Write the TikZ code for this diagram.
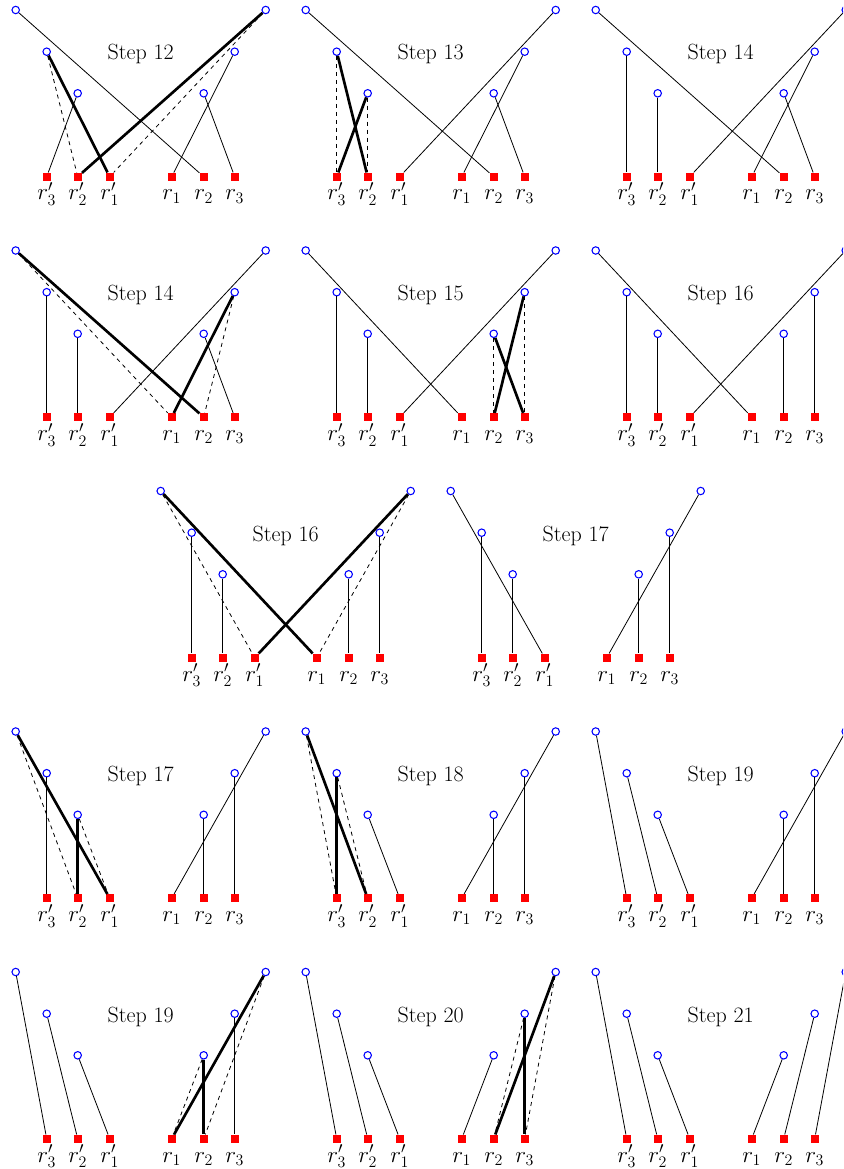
\documentclass[tikz,border=0pt]{standalone}
\begin{document}
\begin{tikzpicture}[x=0.75pt,y=-0.75pt,
  pt/.style={circle,draw=blue,fill=white,line width=0.8pt,minimum size=5.6pt,inner sep=0pt},
  sq/.style={rectangle,fill=red,minimum size=6pt,inner sep=0pt},
  lab/.style={anchor=base,inner sep=0pt,font=\fontsize{17}{20}\selectfont},
  ttl/.style={anchor=base,inner sep=0pt,font=\fontsize{16.5}{19}\selectfont},
  ln/.style={line width=0.6pt},
  thk/.style={line width=2pt},
  dsh/.style={dashed,line width=0.6pt}]
\clip (0,0) rectangle (843,1169);
\newcommand\Panel[4]{%
  \node[pt] (#1TL) at (#2-125,#3) {};
  \node[pt] (#1ML) at (#2-94,#3+41.7) {};
  \node[pt] (#1LL) at (#2-63,#3+83.3) {};
  \node[pt] (#1TR) at (#2+125,#3) {};
  \node[pt] (#1MR) at (#2+94,#3+41.7) {};
  \node[pt] (#1LR) at (#2+63,#3+83.3) {};
  \node[sq] (#1a3) at (#2-94,#3+166.7) {};
  \node[sq] (#1a2) at (#2-63,#3+166.7) {};
  \node[sq] (#1a1) at (#2-31,#3+166.7) {};
  \node[sq] (#1b1) at (#2+31,#3+166.7) {};
  \node[sq] (#1b2) at (#2+63,#3+166.7) {};
  \node[sq] (#1b3) at (#2+94,#3+166.7) {};
  \node[lab] (#1la3) at (#2-94,#3+190) {$r'_3$};
  \node[lab] (#1la2) at (#2-63,#3+190) {$r'_2$};
  \node[lab] (#1la1) at (#2-31,#3+190) {$r'_1$};
  \node[lab] (#1lb1) at (#2+31,#3+190) {$r_1$};
  \node[lab] (#1lb2) at (#2+63,#3+190) {$r_2$};
  \node[lab] (#1lb3) at (#2+94,#3+190) {$r_3$};
  \node[ttl] (#1title) at (#2,#3+50) {Step #4};
}
\newcommand\Lk[3]{\foreach \u/\v in {#3} {\draw[#2] (#1\u) -- (#1\v);}}
% Row 1
\Panel{pa}{140.7}{10}{12}
\Lk{pa}{ln}{TL/b2,LL/a3,MR/b1,LR/b3}
\Lk{pa}{thk}{ML/a1,TR/a2}
\Lk{pa}{dsh}{ML/a2,TR/a1}
\Panel{pb}{430.7}{10}{13}
\Lk{pb}{ln}{TL/b2,TR/a1,MR/b1,LR/b3}
\Lk{pb}{thk}{ML/a2,LL/a3}
\Lk{pb}{dsh}{ML/a3,LL/a2}
\Panel{pc}{720.7}{10}{14}
\Lk{pc}{ln}{TL/b2,ML/a3,LL/a2,TR/a1,MR/b1,LR/b3}
% Row 2
\Panel{pd}{140.7}{250.5}{14}
\Lk{pd}{ln}{ML/a3,LL/a2,TR/a1,LR/b3}
\Lk{pd}{thk}{TL/b2,MR/b1}
\Lk{pd}{dsh}{TL/b1,MR/b2}
\Panel{pe}{430.7}{250.5}{15}
\Lk{pe}{ln}{TL/b1,ML/a3,LL/a2,TR/a1}
\Lk{pe}{thk}{MR/b2,LR/b3}
\Lk{pe}{dsh}{LR/b2,MR/b3}
\Panel{pf}{720.7}{250.5}{16}
\Lk{pf}{ln}{TL/b1,ML/a3,LL/a2,TR/a1,MR/b3,LR/b2}
% Row 3
\Panel{pg}{285.7}{491}{16}
\Lk{pg}{ln}{ML/a3,LL/a2,MR/b3,LR/b2}
\Lk{pg}{thk}{TL/b1,TR/a1}
\Lk{pg}{dsh}{TL/a1,TR/b1}
\Panel{ph}{575.7}{491}{17}
\Lk{ph}{ln}{TL/a1,ML/a3,LL/a2,TR/b1,MR/b3,LR/b2}
% Row 4
\Panel{pi}{140.7}{731.5}{17}
\Lk{pi}{ln}{ML/a3,TR/b1,MR/b3,LR/b2}
\Lk{pi}{thk}{TL/a1,LL/a2}
\Lk{pi}{dsh}{TL/a2,LL/a1}
\Panel{pj}{430.7}{731.5}{18}
\Lk{pj}{ln}{LL/a1,TR/b1,MR/b3,LR/b2}
\Lk{pj}{thk}{TL/a2,ML/a3}
\Lk{pj}{dsh}{TL/a3,ML/a2}
\Panel{pk}{720.7}{731.5}{19}
\Lk{pk}{ln}{TL/a3,ML/a2,LL/a1,TR/b1,MR/b3,LR/b2}
% Row 5
\Panel{pl}{140.7}{972}{19}
\Lk{pl}{ln}{TL/a3,ML/a2,LL/a1,MR/b3}
\Lk{pl}{thk}{TR/b1,LR/b2}
\Lk{pl}{dsh}{LR/b1,TR/b2}
\Panel{pm}{430.7}{972}{20}
\Lk{pm}{ln}{TL/a3,ML/a2,LL/a1,LR/b1}
\Lk{pm}{thk}{TR/b2,MR/b3}
\Lk{pm}{dsh}{TR/b3,MR/b2}
\Panel{pn}{720.7}{972}{21}
\Lk{pn}{ln}{TL/a3,ML/a2,LL/a1,LR/b1,MR/b2,TR/b3}
\end{tikzpicture}
\end{document}
